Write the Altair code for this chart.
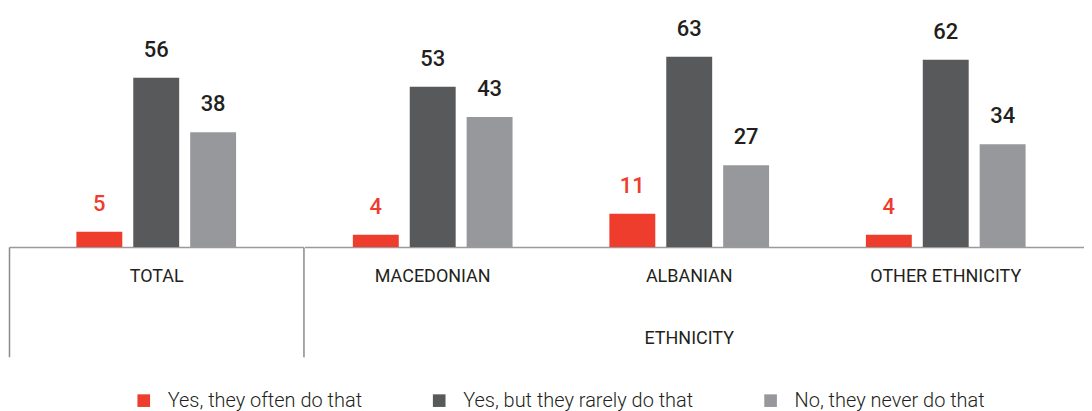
import altair as alt
import pandas as pd

groups = ["TOTAL", "MACEDONIAN", "ALBANIAN", "OTHER ETHNICITY"]
series = ["Yes, they often do that", "Yes, but they rarely do that", "No, they never do that"]
often = [5, 4, 11, 4]
rarely = [56, 53, 63, 62]
never = [38, 43, 27, 34]
section_title = "ETHNICITY"

RED = "#EE3D2D"
DARK = "#58595B"
GRAY = "#97989C"
TXT = "#231F20"
LINE = "#9A9A9A"
AX_FONT = "Roboto"

rows = []
for i, g in enumerate(groups):
    for s, vals in zip(series, [often, rarely, never]):
        rows.append({"group": g, "series": s, "value": vals[i]})
df = pd.DataFrame(rows)
df_left = df[df["group"] == groups[0]]
df_right = df[df["group"] != groups[0]]

color = alt.Color(
    "series:N",
    sort=series,
    scale=alt.Scale(domain=series, range=[RED, DARK, GRAY]),
    legend=alt.Legend(
        title=None,
        orient="none",
        legendX=125,
        legendY=374,
        direction="horizontal",
        columns=3,
        gridAlign="none",
        columnPadding=67,
        symbolType="square",
        symbolSize=160,
        symbolStrokeWidth=0,
        labelOffset=14,
        labelFont="Roboto",
        labelFontWeight=300,
        labelFontSize=20,
        labelColor=TXT,
        labelLimit=400,
        padding=0,
    ),
)
y = alt.Y("value:Q", scale=alt.Scale(domain=[0, 76]), axis=None)
text_color = alt.condition(alt.datum.series == series[0], alt.value(RED), alt.value(TXT))


def panel(data, width, x_axis, x_scale, off_scale):
    base = alt.Chart(data).encode(
        x=alt.X("group:N", sort=groups, scale=x_scale, axis=x_axis),
        xOffset=alt.XOffset("series:N", sort=series, scale=off_scale),
        y=y,
    )
    bars = base.mark_bar().encode(color=color)
    labels = base.mark_text(
        dy=-28, baseline="middle", align="center", font="Roboto", fontSize=22, fontWeight=500
    ).encode(text=alt.Text("value:Q"), color=text_color)
    return alt.layer(bars, labels).properties(width=width, height=230)


left_axis = alt.Axis(
    title=None, labelAngle=0, tickBand="extent", ticks=True, tickSize=110,
    tickColor="#8A8A8A", tickWidth=1.5, domainColor=LINE, domainWidth=1.5,
    labelPadding=-80, labelBaseline="middle", labelFont=AX_FONT, labelFontSize=18,
    labelColor=TXT, labelLimit=300,
)
right_axis = alt.Axis(
    title=section_title, labelAngle=0, ticks=False, domainColor=LINE, domainWidth=1.5,
    labelPadding=30, labelBaseline="middle", labelFont=AX_FONT, labelFontSize=18,
    labelColor=TXT, labelLimit=300, titleFont=AX_FONT, titleFontSize=18,
    titleFontWeight="normal", titleColor=TXT, titlePadding=44, titleX=385,
    titleAlign="center",
)

left = panel(
    df_left, 295, left_axis,
    alt.Scale(paddingInner=0, paddingOuter=0),
    alt.Scale(domain=series, range=[67.5, 227.5], paddingInner=0.193, paddingOuter=0),
)
right = panel(
    df_right, 781, right_axis,
    alt.Scale(paddingInner=0, paddingOuter=0.0195, align=0),
    alt.Scale(domain=series, range=[48.5, 208.5], paddingInner=0.193, paddingOuter=0),
)

chart = (
    alt.hconcat(left, right, spacing=0)
    .resolve_scale(color="shared", xOffset="independent")
    .properties(padding={"left": 0, "top": 9, "right": 0, "bottom": 0})
    .configure_view(strokeWidth=0)
    .configure_concat(spacing=0)
)

chart.save("out.html", embed_options={"renderer": "svg", "actions": False})
